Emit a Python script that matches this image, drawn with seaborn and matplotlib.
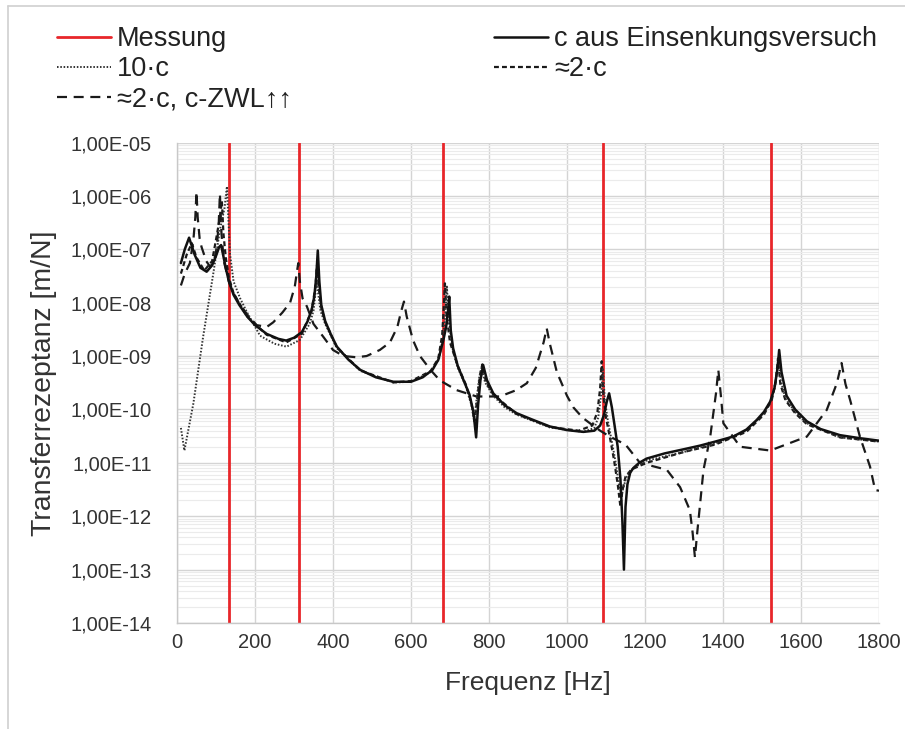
import numpy as np
import pandas as pd
import matplotlib
matplotlib.use("Agg")
import matplotlib.pyplot as plt
import seaborn as sns
from matplotlib.ticker import FixedLocator, FuncFormatter, LogLocator, NullFormatter
from matplotlib.lines import Line2D

sns.set_theme(style="white")
plt.rcParams['font.family'] = ['Liberation Sans', 'DejaVu Sans']

# ---------------- data ----------------
messung_freq = [133, 312, 683, 1092, 1522]

f_c = [10, 20, 31, 45, 60, 76, 90, 100, 108, 113, 118, 125, 133, 145, 160, 180, 200, 230,
       260, 280, 300, 320, 335, 345, 352, 357, 361, 365, 370, 380, 395, 410, 440, 470, 510,
       555, 600, 630, 655, 670, 683, 690, 695, 698, 702, 708, 720, 735, 750, 760, 767, 772,
       778, 785, 795, 811, 840, 871, 910, 956, 1000, 1042, 1070, 1085, 1095, 1102, 1108,
       1115, 1122, 1130, 1137, 1142, 1146, 1150, 1155, 1162, 1170, 1185, 1204, 1250, 1300,
       1341, 1380, 1426, 1460, 1486, 1505, 1521, 1532, 1540, 1544, 1550, 1563, 1585, 1615,
       1650, 1700, 1750, 1800]
v_c = [5.5e-8, 1.0e-7, 1.65e-7, 8e-8, 4.5e-8, 3.8e-8, 5e-8, 7.5e-8, 1.1e-7, 1.2e-7, 8e-8,
       4.5e-8, 2.5e-8, 1.4e-8, 9e-9, 5.5e-9, 3.8e-9, 2.6e-9, 2.1e-9, 1.95e-9, 2.2e-9, 2.8e-9,
       4.5e-9, 7.2e-9, 1.3e-8, 3e-8, 9.5e-8, 2.5e-8, 9e-9, 4.5e-9, 2.5e-9, 1.5e-9, 8.5e-10,
       5.5e-10, 4e-10, 3.3e-10, 3.3e-10, 4e-10, 5.5e-10, 8.5e-10, 2e-9, 3.5e-9, 7e-9, 1.3e-8,
       3e-9, 1.4e-9, 6.5e-10, 3.5e-10, 1.9e-10, 9e-11, 3e-11, 1.2e-10, 3.5e-10, 6.8e-10,
       3.5e-10, 2e-10, 1.2e-10, 8.5e-11, 6.5e-11, 4.8e-11, 4.1e-11, 3.8e-11, 4e-11, 5e-11,
       8e-11, 1.4e-10, 2e-10, 1.1e-10, 5e-11, 2e-11, 5e-12, 8e-13, 1e-13, 1.5e-12, 4e-12,
       6.5e-12, 8e-12, 1e-11, 1.2e-11, 1.5e-11, 1.8e-11, 2.1e-11, 2.5e-11, 3.1e-11, 4.2e-11,
       6.3e-11, 9e-11, 1.4e-10, 2.5e-10, 6e-10, 1.3e-9, 5e-10, 1.8e-10, 1e-10, 6e-11, 4.3e-11,
       3.3e-11, 2.9e-11, 2.6e-11]

f_10c = [10, 19, 42, 67, 93, 110, 122, 128, 131, 136, 145, 162, 180, 213, 250, 281, 315, 340,
         350, 355, 358, 362, 368, 380, 410, 470, 555, 600, 650, 672, 682, 688, 692, 697, 705,
         720, 740, 755, 762, 768, 775, 781, 790, 811, 840, 871, 956, 1042, 1070, 1080, 1088,
         1092, 1097, 1105, 1115, 1125, 1133, 1140, 1147, 1155, 1170, 1204, 1300, 1380, 1460,
         1505, 1525, 1535, 1542, 1548, 1560, 1585, 1615, 1700, 1800]
v_10c = [4.5e-11, 1.7e-11, 1.3e-10, 2.3e-9, 3.5e-8, 2.3e-7, 6e-7, 1.5e-6, 5e-7, 8e-8, 2.5e-8,
         1.2e-8, 6.5e-9, 2.4e-9, 1.7e-9, 1.5e-9, 2e-9, 4e-9, 7e-9, 1.5e-8, 4e-8, 1.5e-8, 7e-9,
         4e-9, 1.4e-9, 5.3e-10, 3.2e-10, 3.3e-10, 5e-10, 9e-10, 2.2e-9, 6e-9, 2e-8, 5e-9,
         1.5e-9, 6e-10, 2.8e-10, 1.2e-10, 6e-11, 1.5e-10, 4e-10, 6e-10, 3.2e-10, 1.8e-10,
         1.1e-10, 8e-11, 4.6e-11, 3.8e-11, 4.5e-11, 7e-11, 2e-10, 6e-10, 1.5e-10, 6e-11,
         2.5e-11, 1e-11, 4e-12, 2.5e-12, 4e-12, 6e-12, 8e-12, 1.1e-11, 1.6e-11, 2.3e-11, 4e-11,
         8.5e-11, 1.6e-10, 3.5e-10, 9e-10, 3.5e-10, 1.6e-10, 9e-11, 5.5e-11, 3e-11, 2.5e-11]

f_2c = [10, 25, 38, 50, 70, 90, 103, 110, 115, 119, 125, 133, 145, 180, 230, 280, 320, 345,
        355, 359, 363, 370, 380, 410, 470, 555, 600, 650, 670, 680, 684, 687, 691, 700, 720,
        740, 755, 763, 770, 777, 783, 792, 811, 871, 956, 1030, 1065, 1078, 1085, 1089, 1093,
        1100, 1110, 1120, 1130, 1137, 1142, 1150, 1165, 1204, 1300, 1380, 1460, 1505, 1525,
        1535, 1541, 1547, 1560, 1585, 1615, 1700, 1800]
v_2c = [3.5e-8, 8e-8, 1.3e-7, 7e-8, 4e-8, 6e-8, 2e-7, 4e-7, 8e-7, 2e-7, 7e-8, 3e-8, 1.5e-8,
        5.5e-9, 2.5e-9, 1.8e-9, 2.6e-9, 7e-9, 2e-8, 5e-8, 2e-8, 8e-9, 4.3e-9, 1.45e-9, 5.4e-10,
        3.2e-10, 3.4e-10, 5.2e-10, 9e-10, 2.5e-9, 8e-9, 2.3e-8, 6e-9, 1.8e-9, 6.5e-10, 3e-10,
        1.3e-10, 6e-11, 1.6e-10, 4.5e-10, 7e-10, 3.3e-10, 1.9e-10, 8.2e-11, 4.7e-11, 4e-11,
        5e-11, 9e-11, 2.5e-10, 8e-10, 2e-10, 7e-11, 3e-11, 1.2e-11, 4e-12, 1.5e-12, 3e-12,
        5.5e-12, 7.5e-12, 1e-11, 1.6e-11, 2.2e-11, 3.8e-11, 8e-11, 1.5e-10, 3.2e-10, 9e-10,
        3e-10, 1.5e-10, 8.5e-11, 5.3e-11, 3e-11, 2.5e-11]

f_zwl = [10, 20, 33, 42, 47, 50, 53, 58, 63, 75, 85, 95, 102, 107, 110, 114, 120, 133, 145,
         160, 180, 204, 230, 247, 270, 290, 302, 308, 311, 315, 322, 333, 350, 375, 400, 427,
         460, 486, 520, 546, 565, 575, 582, 589, 605, 623, 650, 674, 717, 768, 828, 870, 897,
         920, 940, 948, 956, 974, 1000, 1016, 1040, 1059, 1085, 1110, 1150, 1187, 1256, 1290,
         1315, 1322, 1328, 1334, 1350, 1367, 1382, 1388, 1394, 1401, 1444, 1521, 1615, 1666,
         1692, 1704, 1714, 1726, 1751, 1777, 1790, 1800]
v_zwl = [2.1e-8, 3.5e-8, 5.5e-8, 1.5e-7, 4e-7, 1.2e-6, 4e-7, 1.6e-7, 1.1e-7, 6e-8, 4.7e-8,
         6e-8, 1.1e-7, 3e-7, 1.1e-6, 2e-7, 6e-8, 2.5e-8, 1.5e-8, 9.5e-9, 6e-9, 3.8e-9, 3.5e-9,
         4.3e-9, 6.5e-9, 1e-8, 2e-8, 4e-8, 5.5e-8, 2.5e-8, 1.2e-8, 8.5e-9, 4e-9, 2.3e-9,
         1.3e-9, 1e-9, 9.5e-10, 1e-9, 1.3e-9, 1.8e-9, 3.5e-9, 7e-9, 1.05e-8, 5.5e-9, 2e-9,
         1e-9, 5.5e-10, 3.5e-10, 2.3e-10, 1.75e-10, 1.75e-10, 2.3e-10, 3.1e-10, 6e-10, 1.8e-9,
         3.3e-9, 1.7e-9, 5e-10, 1.8e-10, 1.1e-10, 7e-11, 5.5e-11, 4e-11, 3.1e-11, 2.2e-11,
         1e-11, 7.4e-12, 3.5e-12, 1.3e-12, 5e-13, 1.7e-13, 5e-13, 7.4e-12, 3e-11, 2e-10,
         5.5e-10, 2e-10, 5.5e-11, 2e-11, 1.7e-11, 3.1e-11, 9.8e-11, 3.1e-10, 7.4e-10, 3e-10,
         1.5e-10, 3.1e-11, 8.5e-12, 3.1e-12, 3e-12]

y_ticks = [1e-5, 1e-6, 1e-7, 1e-8, 1e-9, 1e-10, 1e-11, 1e-12, 1e-13, 1e-14]
x_ticks = [0, 200, 400, 600, 800, 1000, 1200, 1400, 1600, 1800]

lbl_mess = "Messung"
lbl_c = "c aus Einsenkungsversuch"
lbl_10c = "10\u00b7c"
lbl_2c = "\u22482\u00b7c"
lbl_zwl = "\u22482\u00b7c, c-ZWL\u2191\u2191"

# ---------------- figure ----------------
W, H = 905, 729
fig = plt.figure(figsize=(W / 100, H / 100), dpi=100)
fig.patch.set_facecolor("white")
ax = fig.add_axes([177 / W, 1 - 623 / H, (879 - 177) / W, (623 - 142.5) / H])
ax.set_facecolor("white")
ax.set_yscale("log")

red = "#e8262a"
for fm in messung_freq:
    ax.axvline(fm, color=red, lw=2.0, zorder=2)

series = [
    (f_zwl, v_zwl, dict(color="#1a1a1a", lw=1.6, linestyle=(0, (4.5, 3.0)))),
    (f_2c, v_2c, dict(color="#1a1a1a", lw=1.6, linestyle=(0, (2.2, 1.4)))),
    (f_10c, v_10c, dict(color="#333333", lw=1.4, linestyle=(0, (0.8, 0.9)))),
    (f_c, v_c, dict(color="#111111", lw=1.8, linestyle="-")),
]
for fx, vy, kw in series:
    df = pd.DataFrame({"f": fx, "v": vy})
    sns.lineplot(data=df, x="f", y="v", ax=ax, estimator=None, sort=False,
                 legend=False, zorder=3, **kw)

ax.set_xlim(0, 1800)
ax.set_ylim(1e-14, 1e-5)
ax.xaxis.set_major_locator(FixedLocator(x_ticks))
ax.yaxis.set_major_locator(FixedLocator(y_ticks))
ax.yaxis.set_minor_locator(LogLocator(base=10, subs=np.arange(2, 10), numticks=50))
ax.yaxis.set_minor_formatter(NullFormatter())


def fmt(v, pos):
    e = int(round(np.log10(v)))
    return "1,00E-%02d" % (-e) if e < 0 else "1,00E+%02d" % e


ax.yaxis.set_major_formatter(FuncFormatter(fmt))
ax.grid(True, which="major", axis="both", color="#d4d4d4", lw=1.0, zorder=0)
ax.grid(True, which="minor", axis="y", color="#ebebeb", lw=0.8, zorder=0)
ax.tick_params(axis="both", which="both", length=0, labelsize=14.5, colors="#333333")
ax.tick_params(axis="y", pad=18)
ax.tick_params(axis="x", pad=7)
for s in ["top", "right"]:
    ax.spines[s].set_visible(False)
for s in ["left", "bottom"]:
    ax.spines[s].set_color("#c8c8c8")
    ax.spines[s].set_linewidth(1.0)

ax.set_xlabel("Frequenz [Hz]", fontsize=19, color="#333333", labelpad=14)
ax.set_ylabel("Transferrezeptanz [m/N]", fontsize=20.5, color="#333333", labelpad=10)

# legend
h_mess = Line2D([], [], color=red, lw=2.0)
h_c = Line2D([], [], color="#111111", lw=1.8)
h_10c = Line2D([], [], color="#333333", lw=1.4, linestyle=(0, (0.8, 0.9)))
h_2c = Line2D([], [], color="#1a1a1a", lw=1.6, linestyle=(0, (2.2, 1.4)))
h_zwl = Line2D([], [], color="#1a1a1a", lw=1.6, linestyle=(0, (4.5, 3.0)))

common = dict(frameon=False, fontsize=19.5, handlelength=2.0, handletextpad=0.22,
              labelspacing=0.16, borderaxespad=0, borderpad=0, labelcolor="#222222")
leg1 = fig.legend([h_mess, h_10c, h_zwl], [lbl_mess, lbl_10c, lbl_zwl],
                  loc="upper left", bbox_to_anchor=(57 / W, 1 - 26 / H), **common)
leg2 = fig.legend([h_c, h_2c], [lbl_c, lbl_2c],
                  loc="upper left", bbox_to_anchor=(494 / W, 1 - 26 / H), **common)

# outer frame lines (left and top)
fig.add_artist(Line2D([8 / W, 8 / W], [0, 1 - 6 / H], transform=fig.transFigure,
                      color="#d0d0d0", lw=1.2))
fig.add_artist(Line2D([8 / W, 1], [1 - 6 / H, 1 - 6 / H], transform=fig.transFigure,
                      color="#d0d0d0", lw=1.2))

fig.savefig("out.png", dpi=100)
